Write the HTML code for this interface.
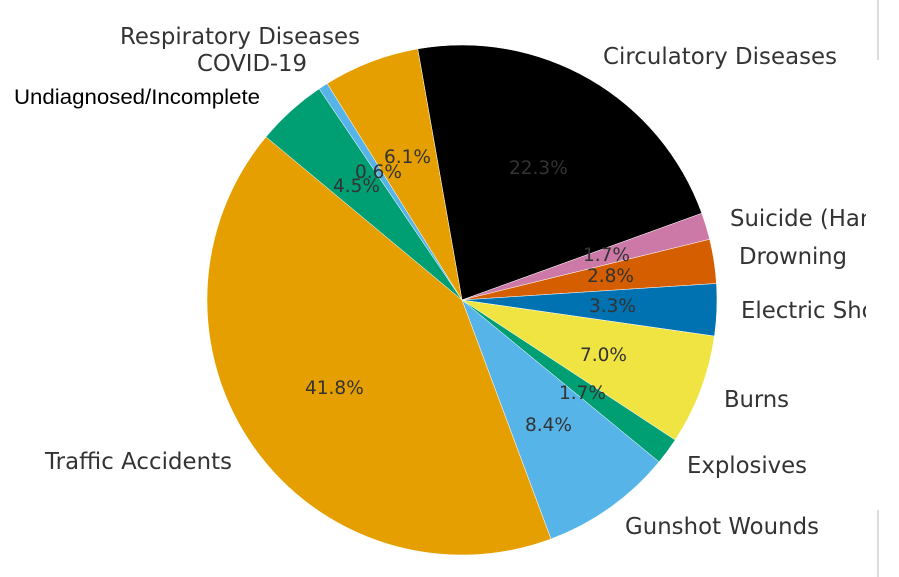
<!DOCTYPE html>
<html><head><meta charset="utf-8"><style>
body{margin:0;background:#fff;width:899px;height:577px;overflow:hidden}
svg{position:absolute;left:0;top:0}
text{font-family:"DejaVu Sans","Liberation Sans",sans-serif;fill:#333}
</style></head><body>
<svg id="s" width="899" height="577" xmlns="http://www.w3.org/2000/svg">
<defs><clipPath id="c"><rect x="0" y="0" width="866" height="577"/></clipPath></defs>
<g id="w"></g>
<g clip-path="url(#c)" font-size="22.8">
<text x="120" y="44" textLength="240">Respiratory Diseases</text>
<text x="197" y="71" textLength="110">COVID-19</text>
<text x="603" y="64" textLength="234">Circulatory Diseases</text>
<text x="730" y="226">Suicide (Hanging)</text>
<text x="739" y="264" textLength="108">Drowning</text>
<text x="741" y="318">Electric Shock</text>
<text x="724" y="407" textLength="65">Burns</text>
<text x="687" y="473" textLength="120">Explosives</text>
<text x="625" y="534" textLength="194">Gunshot Wounds</text>
<text x="45" y="469" textLength="187">Traffic Accidents</text>
</g>
<text x="14" y="104" font-size="21" textLength="246" lengthAdjust="spacingAndGlyphs" style="font-family:'Liberation Sans',sans-serif;fill:#000">Undiagnosed/Incomplete</text>
<g font-size="18.5">
<text x="509" y="174">22.3%</text>
<text x="384" y="163">6.1%</text>
<text x="355" y="178">0.6%</text>
<text x="333" y="192">4.5%</text>
<text x="583" y="261">1.7%</text>
<text x="587" y="282">2.8%</text>
<text x="589" y="312">3.3%</text>
<text x="580" y="361">7.0%</text>
<text x="559" y="399">1.7%</text>
<text x="525" y="431">8.4%</text>
<text x="305" y="394">41.8%</text>
</g>
<line x1="878" y1="0" x2="878" y2="60" stroke="#ddd" stroke-width="2"/>
<line x1="878" y1="510" x2="878" y2="577" stroke="#ddd" stroke-width="2"/>
</svg>
<script>
var cx=462,cy=300,r=255;
var d=[[22.3,"#000"],[1.7,"#cc79a7"],[2.8,"#d55e00"],[3.3,"#0072b2"],[7.0,"#f0e442"],[1.7,"#009e73"],[8.4,"#56b4e9"],[41.8,"#e69f00"],[4.5,"#009e73"],[0.6,"#56b4e9"],[6.1,"#e69f00"]];
var tot=0;d.forEach(function(x){tot+=x[0]});
var a=100,g=document.getElementById("w"),h="";
function pt(t){t=t*Math.PI/180;return (cx+r*Math.cos(t)).toFixed(2)+","+(cy-r*Math.sin(t)).toFixed(2)}
d.forEach(function(x){var s=x[0]/tot*360,b=a-s;
h+='<path d="M'+cx+','+cy+' L'+pt(a)+' A'+r+','+r+' 0 '+(s>180?1:0)+' 1 '+pt(b)+' Z" fill="'+x[1]+'" stroke="#fff" stroke-width="0.5"/>';a=b;});
g.innerHTML=h;
</script>
</body></html>
